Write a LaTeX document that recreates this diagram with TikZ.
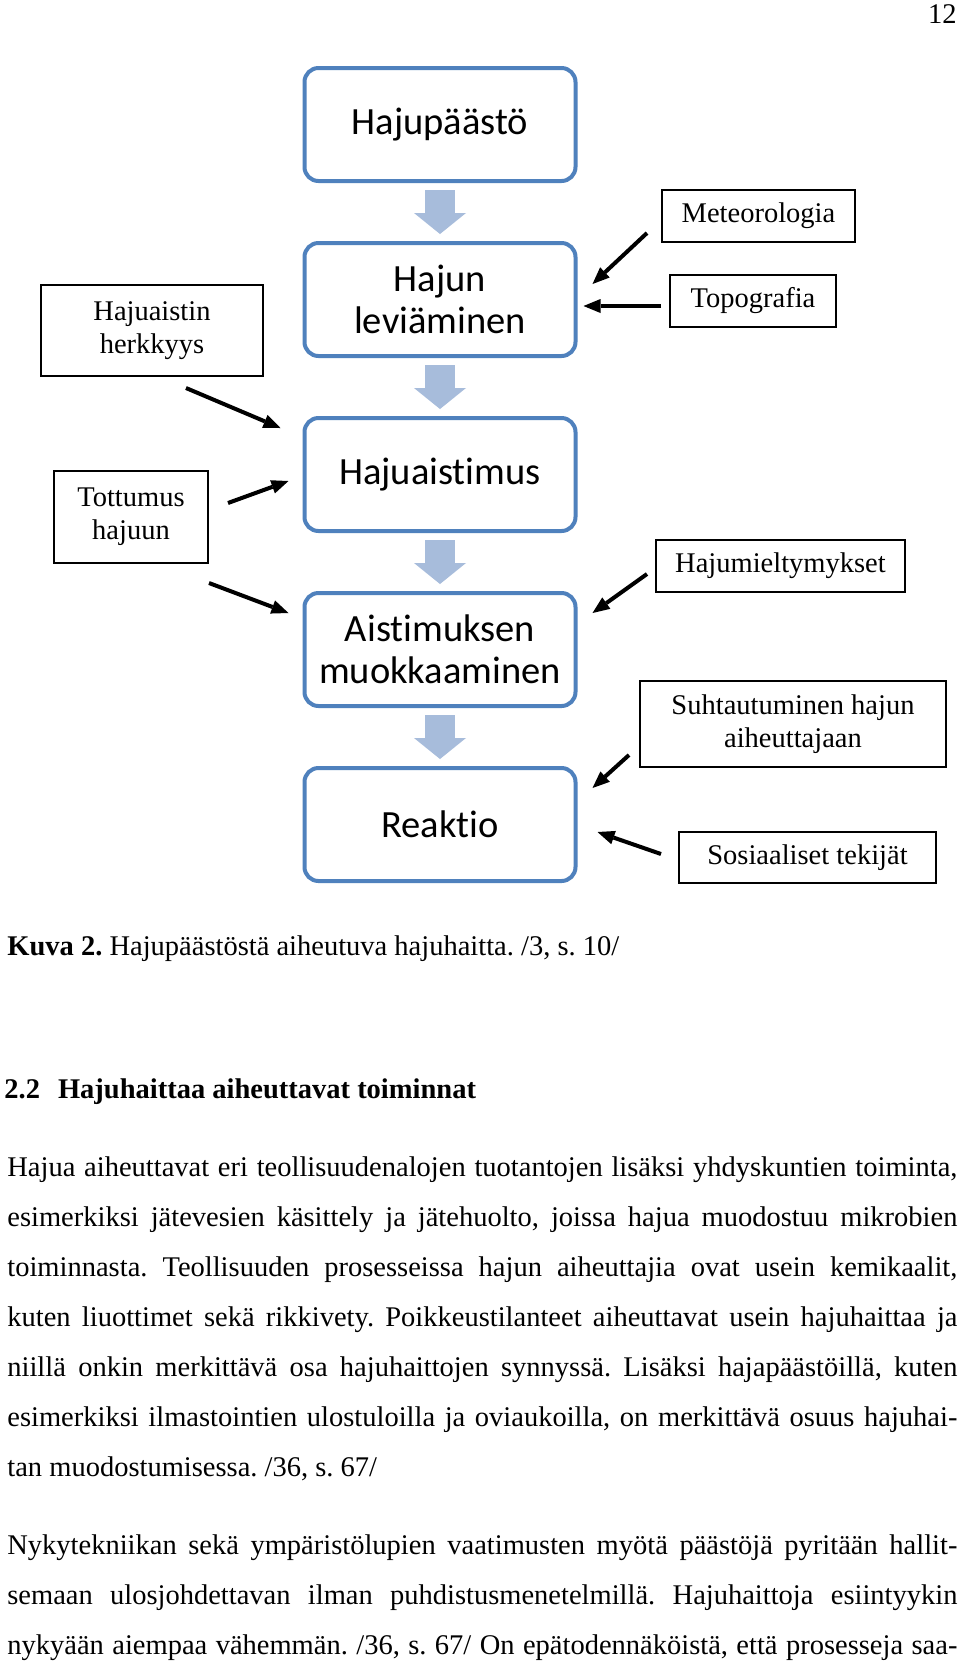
\documentclass[tikz,border=0pt]{standalone}
\usepackage{fontspec}
\setmainfont{Liberation Serif}
\newfontfamily\calibri[Ligatures=NoCommon]{Carlito}
\usetikzlibrary{arrows.meta,positioning}
\definecolor{boxblue}{RGB}{79,129,189}
\definecolor{flowblue}{RGB}{167,188,219}
\frenchspacing

\begin{document}
\begin{tikzpicture}[x=0.5pt, y=-0.5pt, node distance=29pt]
	\tikzstyle{proc}=[draw=boxblue, line width=2pt, rounded corners=7pt, minimum width=135.5pt, minimum height=56.5pt, align=center, font=\calibri\fontsize{19.25}{21}\selectfont]
	\tikzstyle{fact}=[draw, line width=1pt, align=center, inner sep=0pt, font=\fontsize{14.25}{16.5}\selectfont]
	\tikzstyle{txt}=[anchor=base west, inner sep=0pt, font=\fontsize{14.25}{17}\selectfont]
	\tikzstyle{flow}=[draw, color=flowblue, line width=15pt, shorten <=3.5pt, shorten >=3.5pt, -{Triangle[width=26pt,length=10.5pt,line width=0pt]}]
	\tikzstyle{infl}=[draw, color=black, line width=2pt, -{Triangle[width=7pt,length=8.5pt,line width=0pt]}]
	\path[use as bounding box, fill=white] (0,0) rectangle (960,1662);

	% page number
	\node[txt, anchor=base east] (pageno) at (957,23) {12};

	% main chain
	\node[proc] (emis) at (440,124.5) {Hajupäästö};
	\node[proc] (spread) [below=of emis] {Hajun\\leviäminen};
	\node[proc] (percept) [below=of spread] {Hajuaistimus};
	\node[proc] (modif) [below=of percept] {Aistimuksen\\muokkaaminen};
	\node[proc] (react) [below=of modif] {Reaktio};
	\path
		(emis) edge[flow] (spread)
		(spread) edge[flow] (percept)
		(percept) edge[flow] (modif)
		(modif) edge[flow] (react);

	% influencing factors
	\node[fact, minimum width=96.5pt, minimum height=26pt] (meteo) at (758.5,216) {Meteorologia};
	\node[fact, minimum width=83pt, minimum height=26pt] (topo) at (753,301) {Topografia};
	\node[fact, minimum width=111pt, minimum height=45.5pt] (herk) at (152,330.5) {Hajuaistin\\herkkyys};
	\node[fact, minimum width=77pt, minimum height=46pt] (tott) at (131,517) {Tottumus\\hajuun};
	\node[fact, minimum width=124.5pt, minimum height=26pt] (mielt) at (780.5,566) {Hajumieltymykset};
	\node[fact, minimum width=153pt, minimum height=43pt] (suht) at (793,724) {Suhtautuminen hajun\\aiheuttajaan};
	\node[fact, minimum width=128.5pt, minimum height=25.5pt] (sos) at (807.5,857.5) {Sosiaaliset tekijät};
	\path
		([shift={(-14,-10)}]meteo.south west) edge[infl] ([shift={(15,-15.5)}]spread.east)
		([shift={(-8,5)}]topo.west) edge[infl] ([shift={(6,6.5)}]spread.east)
		([shift={(34,11)}]herk.south) edge[infl] ([shift={(-22,-46.5)}]percept.west)
		([shift={(19,-14)}]tott.east) edge[infl] ([shift={(-14,6.5)}]percept.west)
		([shift={(0,19)}]tott.south east) edge[infl] ([shift={(-14,-36.5)}]modif.west)
		([shift={(-8,8)}]mielt.west) edge[infl] ([shift={(15,-36.5)}]modif.east)
		([shift={(-10,-13)}]suht.south west) edge[infl] ([shift={(15,-36.5)}]react.east)
		([shift={(-17,-3.5)}]sos.west) edge[infl] ([shift={(20,7.5)}]react.east);

	% caption and heading
	\node[txt] (cap) at (7,955) {\textbf{Kuva 2.} Hajupäästöstä aiheutuva hajuhaitta. /3, s. 10/};
	\node[txt] (sec) at (4,1098) {\textbf{2.2\hspace{9pt}Hajuhaittaa aiheuttavat toiminnat}};

	% body text
	\node[txt] (pa1) at (7,1176) {\makebox[475pt][s]{Hajua aiheuttavat eri teollisuudenalojen tuotantojen lisäksi yhdyskuntien toiminta,}};
	\node[txt] (pa2) at (7,1226.1) {\makebox[475pt][s]{esimerkiksi jätevesien käsittely ja jätehuolto, joissa hajua muodostuu mikrobien}};
	\node[txt] (pa3) at (7,1276.2) {\makebox[475pt][s]{toiminnasta. Teollisuuden prosesseissa hajun aiheuttajia ovat usein kemikaalit,}};
	\node[txt] (pa4) at (7,1326.3) {\makebox[475pt][s]{kuten liuottimet sekä rikkivety. Poikkeustilanteet aiheuttavat usein hajuhaittaa ja}};
	\node[txt] (pa5) at (7,1376.4) {\makebox[475pt][s]{niillä onkin merkittävä osa hajuhaittojen synnyssä. Lisäksi hajapäästöillä, kuten}};
	\node[txt] (pa6) at (7,1426.5) {\makebox[475pt][s]{esimerkiksi ilmastointien ulostuloilla ja oviaukoilla, on merkittävä osuus hajuhai-}};
	\node[txt] (pa7) at (7,1476.6) {tan muodostumisessa. /36, s. 67/};
	\node[txt] (pb1) at (7,1554) {\makebox[475pt][s]{Nykytekniikan sekä ympäristölupien vaatimusten myötä päästöjä pyritään hallit-}};
	\node[txt] (pb2) at (7,1604) {\makebox[475pt][s]{semaan ulosjohdettavan ilman puhdistusmenetelmillä. Hajuhaittoja esiintyykin}};
	\node[txt] (pb3) at (7,1654) {\makebox[475pt][s]{nykyään aiempaa vähemmän. /36, s. 67/ On epätodennäköistä, että prosesseja saa-}};
\end{tikzpicture}
\end{document}
